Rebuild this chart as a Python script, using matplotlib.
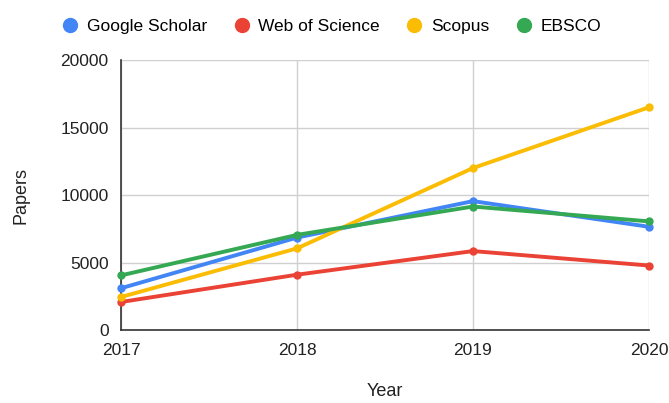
import matplotlib.pyplot as plt
from matplotlib.lines import Line2D

plt.rcParams['font.family'] = ['Liberation Sans', 'DejaVu Sans']

years = [2017, 2018, 2019, 2020]
google_scholar = [3100, 6850, 9550, 7650]
web_of_science = [2080, 4100, 5850, 4780]
scopus = [2450, 6050, 12000, 16500]
ebsco = [4050, 7050, 9150, 8050]

series_names = ['Google Scholar', 'Web of Science', 'Scopus', 'EBSCO']
colors = ['#4285F4', '#EA4335', '#FBBC04', '#34A853']

fig = plt.figure(figsize=(6.69, 4.03), dpi=100)
ax = fig.add_axes([0.181, 0.181, 0.789, 0.670])

for vals, c in zip([google_scholar, web_of_science, scopus, ebsco], colors):
    ax.plot(years, vals, color=c, linewidth=2.8, marker='o', markersize=5,
            solid_capstyle='round', clip_on=False, zorder=3)

ax.set_xlim(2017, 2020)
ax.set_ylim(0, 20000)
ax.set_xticks(years)
ax.set_xticklabels([str(y) for y in years])
ax.set_yticks([0, 5000, 10000, 15000, 20000])
ax.grid(True, color='#d0d0d0', linewidth=1)
ax.set_axisbelow(True)
for s in ['top', 'right']:
    ax.spines[s].set_visible(False)
for s in ['left', 'bottom']:
    ax.spines[s].set_color('#333333')
    ax.spines[s].set_linewidth(1.2)
ax.tick_params(length=0, labelsize=12.5, colors='#222222')
ax.tick_params(axis='x', pad=9)
ax.tick_params(axis='y', pad=9)

ax.set_xlabel('Year', fontsize=13, color='#222222', labelpad=18)
ax.set_ylabel('Papers', fontsize=13, color='#222222', labelpad=22)

handles = [Line2D([], [], linestyle='none', marker='o', markersize=10,
                  markerfacecolor=c, markeredgecolor=c) for c in colors]
fig.legend(handles, series_names, loc='center', bbox_to_anchor=(0.495, 0.935),
           ncol=4, frameon=False, fontsize=12.5, handletextpad=0.45,
           columnspacing=1.5, handlelength=1.0)

fig.savefig('out.png', dpi=100)
